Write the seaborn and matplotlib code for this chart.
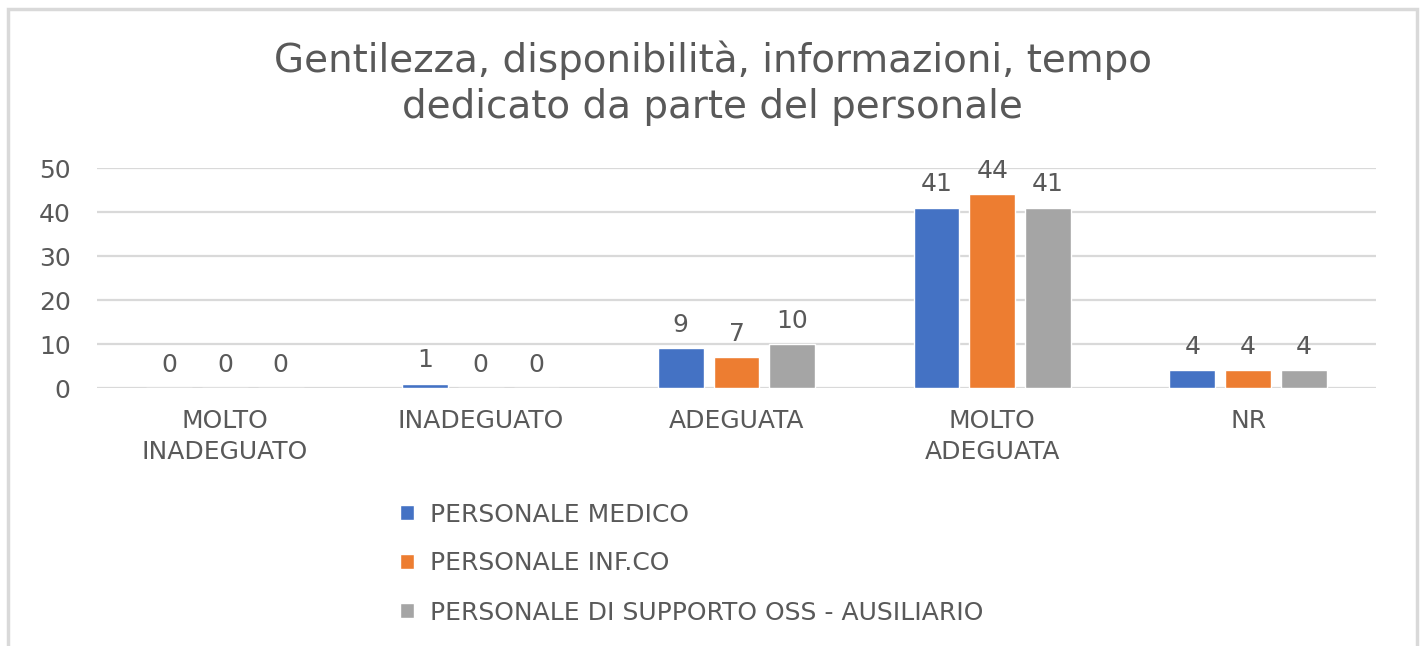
import matplotlib
matplotlib.use("Agg")
import matplotlib.pyplot as plt
import seaborn as sns
import pandas as pd
from matplotlib.patches import Rectangle

categories = ["MOLTO\nINADEGUATO", "INADEGUATO", "ADEGUATA", "MOLTO\nADEGUATA", "NR"]
series = ["PERSONALE MEDICO", "PERSONALE INF.CO", "PERSONALE DI SUPPORTO OSS - AUSILIARIO"]
medico = [0, 1, 9, 41, 4]
infco = [0, 0, 7, 44, 4]
supporto = [0, 0, 10, 41, 4]
colors = ["#4472C4", "#ED7D31", "#A5A5A5"]
title = "Gentilezza, disponibilità, informazioni, tempo\ndedicato da parte del personale"

rows = []
for s, vals in zip(series, [medico, infco, supporto]):
    for c, v in zip(categories, vals):
        rows.append({"categoria": c, "serie": s, "valore": v})
df = pd.DataFrame(rows)

sns.set_theme(style="white")
plt.rcParams["font.family"] = ["DejaVu Sans"]
text_color = "#595959"
fs = 18

fig = plt.figure(figsize=(14.22, 6.46), dpi=100)
W, H = 1422, 646
ax = fig.add_axes([97 / W, 1 - 388 / H, (1376 - 97) / W, (388 - 168) / H])

sns.barplot(data=df, x="categoria", y="valore", hue="serie", order=categories,
            hue_order=series, palette=colors, saturation=1, width=0.655, gap=0.18,
            ax=ax, legend=True)

ax.set_ylim(0, 50)
ax.set_xlim(-0.5, len(categories) - 0.5)
ax.set_yticks([0, 10, 20, 30, 40, 50])
ax.yaxis.grid(True, color="#D9D9D9", linewidth=1.6)
ax.set_axisbelow(True)
for sp in ax.spines.values():
    sp.set_visible(False)
ax.set_xlabel("")
ax.set_ylabel("")
ax.tick_params(axis="y", length=0, pad=19, labelsize=fs, labelcolor=text_color)
ax.tick_params(axis="x", length=0, pad=15, labelsize=fs, labelcolor=text_color)
for t in ax.get_xticklabels():
    t.set_linespacing(1.4)

for cont in ax.containers:
    ax.bar_label(cont, fmt="%d", padding=8, fontsize=fs, color=text_color)

handles, labels = ax.get_legend_handles_labels()
if ax.legend_:
    ax.legend_.remove()
fig.legend(handles, labels, loc="upper left", bbox_to_anchor=(378 / W, 1 - 480 / H),
           frameon=False, fontsize=fs, labelcolor=text_color, handlelength=0.55,
           handleheight=0.55, handletextpad=0.65, labelspacing=1.0)

fig.text(0.5 * (8 + 1417) / W, 1 - 83 / H, title, ha="center", va="center",
         fontsize=28, color=text_color, linespacing=1.25)

fig.patches.append(Rectangle((8 / W, -0.05), (1417 - 8) / W, 1.05 - 9 / H,
                             transform=fig.transFigure, fill=False,
                             edgecolor="#D9D9D9", linewidth=2.5))

fig.savefig("out.png", dpi=100, facecolor="white")
